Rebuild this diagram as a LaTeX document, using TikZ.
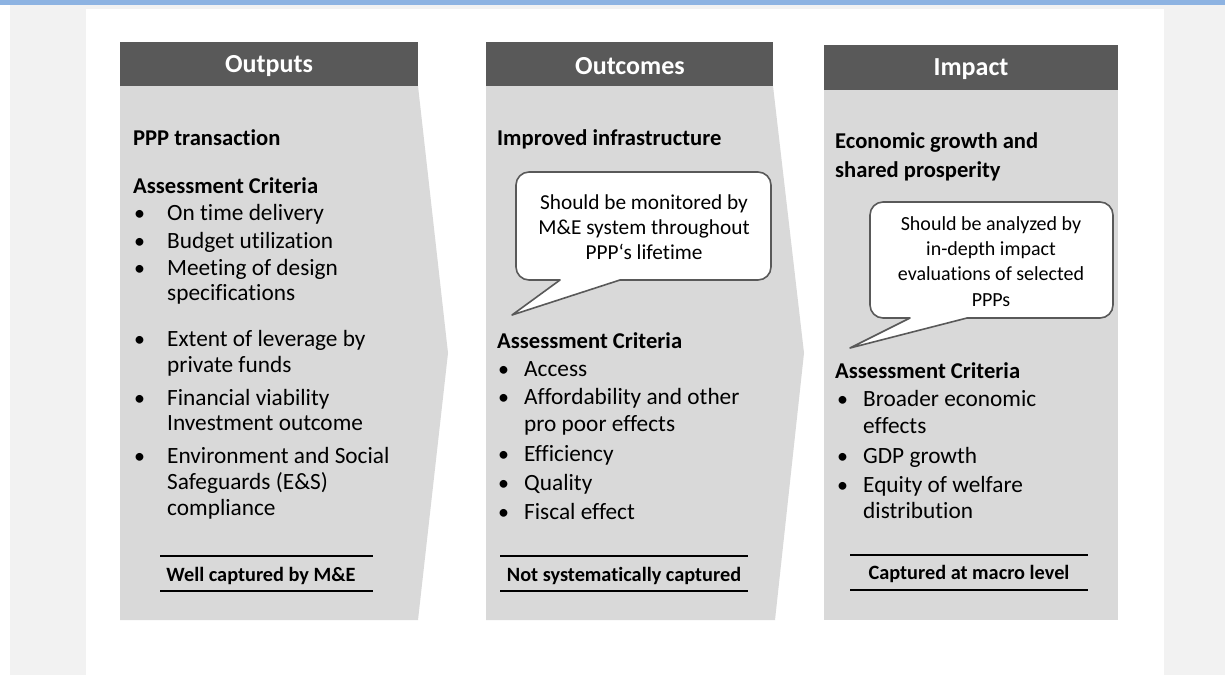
\documentclass[tikz,border=0pt]{standalone}
\usepackage{fontspec}
\setmainfont{Carlito}[Ligatures=NoCommon]
\definecolor{topblue}{HTML}{8DB3E2}
\definecolor{bggray}{HTML}{F2F2F2}
\definecolor{hdrgray}{HTML}{595959}
\definecolor{bodygray}{HTML}{D9D9D9}
\definecolor{calloutline}{HTML}{595959}
\tikzset{
  hdrbox/.style={fill=hdrgray, draw=none},
  bodybox/.style={fill=bodygray, draw=none},
  hdrtext/.style={text=white, font=\fontsize{26}{30}\selectfont\bfseries, inner sep=0pt},
  headtxt/.style={anchor=base west, inner sep=0pt, font=\fontsize{22.6}{26}\selectfont\bfseries},
  itemtxt/.style={anchor=base west, inner sep=0pt, font=\fontsize{23.3}{26}\selectfont},
  bul/.style={anchor=base west, inner sep=0pt, font=\fontsize{22}{26}\selectfont},
  callout/.style={draw=calloutline, line width=1.6pt, fill=white, line join=round},
  callouttxt/.style={anchor=base, inner sep=0pt, font=\fontsize{21.3}{25}\selectfont},
  callouttxtb/.style={anchor=base, inner sep=0pt, font=\fontsize{20}{25}\selectfont},
  foottxt/.style={anchor=base, inner sep=0pt, font=\fontsize{20.3}{24}\selectfont\bfseries},
  footline/.style={line width=1.6pt, black}
}
\begin{document}
\begin{tikzpicture}[x=1pt,y=-1pt]
\useasboundingbox (0,0) rectangle (1225,675);
% background
\fill[white] (0,0) rectangle (1225,675);
\fill[bggray] (10,5) rectangle (1225,675);
\fill[topblue] (0,0) rectangle (1225,5);
\fill[white] (86,9) rectangle (1164,675);

% ---------- Outputs ----------
\fill[bodybox] (120,86) -- (418,86) -- (448,353) -- (418,620) -- (120,620) -- cycle;
\fill[hdrbox] (120,42) rectangle (418,86);
\node[hdrtext] (h1) at (269,66) {Outputs};
\node[headtxt] (o1) at (133,145) {PPP transaction};
\node[headtxt] (o2) at (133,193) {Assessment Criteria};
\node[bul] (ob1) at (134,220) {•};
\node[itemtxt] (oi1) at (167,220) {On time delivery};
\node[bul] (ob2) at (134,248) {•};
\node[itemtxt] (oi2) at (167,248) {Budget utilization};
\node[bul] (ob3) at (134,275) {•};
\node[itemtxt] (oi3) at (167,275) {Meeting of design};
\node[itemtxt] (oi3b) at (167,300) {specifications};
\node[bul] (ob4) at (134,346) {•};
\node[itemtxt] (oi4) at (167,346) {Extent of leverage by};
\node[itemtxt] (oi4b) at (167,372) {private funds};
\node[bul] (ob5) at (134,405) {•};
\node[itemtxt] (oi5) at (167,405) {Financial viability};
\node[itemtxt] (oi5b) at (167,430) {Investment outcome};
\node[bul] (ob6) at (134,463) {•};
\node[itemtxt] (oi6) at (167,463) {Environment and Social};
\node[itemtxt] (oi6b) at (167,489) {Safeguards (E\&S)};
\node[itemtxt] (oi6c) at (167,515) {compliance};
\coordinate (f1a) at (160,556);
\coordinate (f1b) at (373,556);
\coordinate (f1c) at (160,591);
\coordinate (f1d) at (373,591);
\draw[footline] (f1a) -- (f1b);
\draw[footline] (f1c) -- (f1d);
\node[foottxt] (ft1) at (261,581) {Well captured by M\&E};

% ---------- Outcomes ----------
\fill[bodybox] (486,86) -- (773,86) -- (804,353) -- (775,620) -- (486,620) -- cycle;
\fill[hdrbox] (486,42) rectangle (773,86);
\node[hdrtext] (h2) at (630,66) {Outcomes};
\node[headtxt] (c1) at (497,145) {Improved infrastructure};
\draw[callout] (560,280) [sharp corners] -- (512,315) -- (620,280) [rounded corners=13] -- (771,280) -- (771,172) -- (516,172) -- (516,280) [sharp corners] -- cycle;
\node[callouttxt] (cl1) at (644,209) {Should be monitored by};
\node[callouttxt] (cl2) at (644,234) {M\&E system throughout};
\node[callouttxt] (cl3) at (644,259) {PPP‘s lifetime};
\node[headtxt] (c2) at (497,348) {Assessment Criteria};
\node[bul] (cb1) at (498,376) {•};
\node[itemtxt] (ci1) at (524,376) {Access};
\node[bul] (cb2) at (498,404) {•};
\node[itemtxt] (ci2) at (524,404) {Affordability and other};
\node[itemtxt] (ci2b) at (524,431) {pro poor effects};
\node[bul] (cb3) at (498,461) {•};
\node[itemtxt] (ci3) at (524,461) {Efficiency};
\node[bul] (cb4) at (498,490) {•};
\node[itemtxt] (ci4) at (524,490) {Quality};
\node[bul] (cb5) at (498,519) {•};
\node[itemtxt] (ci5) at (524,519) {Fiscal effect};
\coordinate (f2a) at (500,556);
\coordinate (f2b) at (748,556);
\coordinate (f2c) at (500,591);
\coordinate (f2d) at (748,591);
\draw[footline] (f2a) -- (f2b);
\draw[footline] (f2c) -- (f2d);
\node[foottxt] (ft2) at (624,581) {Not systematically captured};

% ---------- Impact ----------
\fill[bodybox] (824,90) rectangle (1118,620);
\fill[hdrbox] (824,45) rectangle (1118,90);
\node[hdrtext] (h3) at (971,69) {Impact};
\node[headtxt] (i1) at (835,148) {Economic growth and};
\node[headtxt] (i1b) at (835,177) {shared prosperity};
\draw[callout] (910,318) [sharp corners] -- (850,348) -- (967,318) [rounded corners=13] -- (1113,318) -- (1113,202) -- (870,202) -- (870,318) [sharp corners] -- cycle;
\node[callouttxtb] (il1) at (991,230) {Should be analyzed by};
\node[callouttxtb] (il2) at (991,255) {in-depth impact};
\node[callouttxtb] (il3) at (991,280) {evaluations of selected};
\node[callouttxtb] (il4) at (991,306) {PPPs};
\node[headtxt] (i2) at (835,378) {Assessment Criteria};
\node[bul] (ib1) at (837,406) {•};
\node[itemtxt] (ii1) at (863,406) {Broader economic};
\node[itemtxt] (ii1b) at (863,433) {effects};
\node[bul] (ib2) at (837,463) {•};
\node[itemtxt] (ii2) at (863,463) {GDP growth};
\node[bul] (ib3) at (837,492) {•};
\node[itemtxt] (ii3) at (863,492) {Equity of welfare};
\node[itemtxt] (ii3b) at (863,518) {distribution};
\coordinate (f3a) at (850,555);
\coordinate (f3b) at (1088,555);
\coordinate (f3c) at (850,590);
\coordinate (f3d) at (1088,590);
\draw[footline] (f3a) -- (f3b);
\draw[footline] (f3c) -- (f3d);
\node[foottxt] (ft3) at (969,579) {Captured at macro level};
\end{tikzpicture}
\end{document}
